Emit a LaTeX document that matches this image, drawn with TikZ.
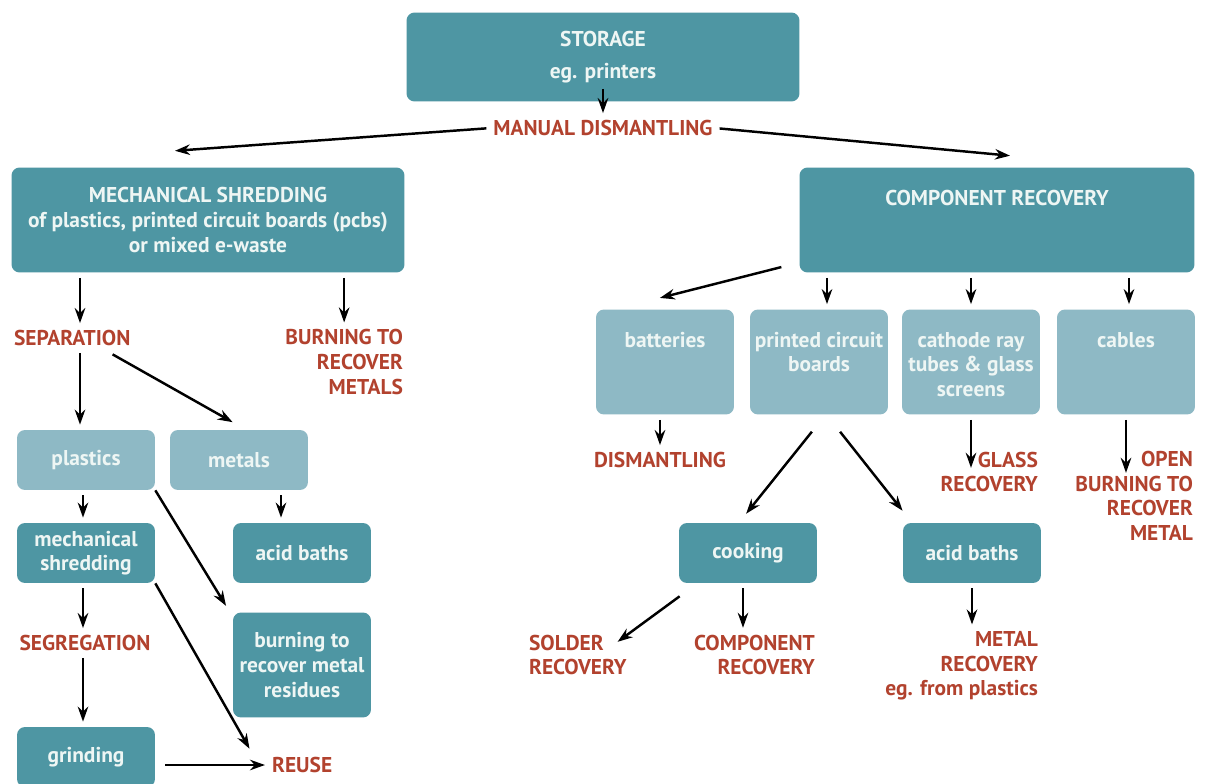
\documentclass[tikz,border=0pt]{standalone}
\usepackage{fontspec}
\setmainfont{PT Sans}
\usetikzlibrary{arrows.meta, positioning, calc}

\definecolor{tealdark}{RGB}{78,150,163}
\definecolor{teallight}{RGB}{142,185,197}
\definecolor{rustred}{RGB}{178,66,46}
\definecolor{boxtext}{RGB}{238,246,244}

% text sitting at the top of a tall box
\newcommand{\toplines}[2]{\parbox[c][1.2cm][t]{#1}{\centering #2}}

\begin{document}
\begin{tikzpicture}[
    x=0.02cm, y=-0.02cm,
    every node/.style={font=\fontsize{12.2}{14}\selectfont\bfseries},
    box/.style={rounded corners=0.16cm, text=boxtext, align=center, inner sep=0.1cm},
    darkbox/.style={box, fill=tealdark},
    lightbox/.style={box, fill=teallight},
    smallbox/.style={minimum width=2.76cm, minimum height=1.2cm},
    tallbox/.style={minimum width=2.76cm, minimum height=2.1cm},
    topbox/.style={lightbox, tallbox, inner xsep=0.02cm},
    redlbl/.style={text=rustred, inner sep=1pt},
    arr/.style={-{Stealth[length=0.3cm, width=0.21cm]}, line width=1.4pt, shorten <=0.1cm, shorten >=0.1cm}
  ]
  \useasboundingbox[fill=white] (0,0) rectangle (1205,784);

  % top level
  \node[darkbox, minimum width=7.86cm, minimum height=1.78cm] (storage) at (603,57) {STORAGE\\[4pt]eg. printers};
  \node[redlbl] (manual) at (603,128) {MANUAL DISMANTLING};
  \node[darkbox, minimum width=7.86cm, minimum height=2.1cm] (mechshred) at (208,220)
    {MECHANICAL SHREDDING\\of plastics, printed circuit boards (pcbs)\\or mixed e-waste};
  \node[darkbox, minimum width=7.9cm, minimum height=2.1cm] (comprec) at (997,220)
    {\toplines{7.6cm}{COMPONENT RECOVERY}};

  % left branch
  \node[redlbl, anchor=west] (sep) at (12,338) {SEPARATION};
  \node[redlbl, anchor=east, align=right] (burn) at (405,362) {BURNING TO\\RECOVER\\METALS};
  \node[lightbox, smallbox] (plastics) at (86,460) {plastics};
  \node[lightbox, smallbox] (metals) at (239,460) {metals};
  \node[darkbox, smallbox] (mech) at (86,553) {mechanical\\shredding};
  \node[darkbox, smallbox] (acidL) at (302,553) {acid baths};
  \node[redlbl] (seg) at (85,643) {SEGREGATION};
  \node[darkbox, tallbox] (burnres) at (302,665) {burning to\\recover metal\\residues};
  \node[darkbox, smallbox] (grind) at (86,757) {grinding};
  \node[redlbl, anchor=west] (reuse) at (270,765) {REUSE};

  % right branch
  \node[topbox] (batt) at (665,362) {\toplines{2.72cm}{batteries}};
  \node[topbox] (pcb) at (819,362) {\toplines{2.72cm}{printed circuit\\boards}};
  \node[topbox] (crt) at (971,362) {\toplines{2.72cm}{cathode ray\\tubes \& glass\\screens}};
  \node[topbox] (cables) at (1126,362) {\toplines{2.72cm}{cables}};
  \node[redlbl] (dism) at (660,460) {DISMANTLING};
  \node[redlbl, anchor=east, align=right] (glass) at (1040,472) {GLASS\\RECOVERY};
  \node[redlbl, anchor=east, align=right] (openburn) at (1195,496) {OPEN\\BURNING TO\\RECOVER\\METAL};
  \node[darkbox, smallbox] (cook) at (748,553) {cooking};
  \node[darkbox, smallbox] (acidR) at (972,553) {acid baths};
  \node[redlbl, anchor=west, align=left] (solder) at (527,655) {SOLDER\\RECOVERY};
  \node[redlbl, anchor=east, align=right] (comp) at (817,655) {COMPONENT\\RECOVERY};
  \node[redlbl, anchor=east, align=right] (metal) at (1040,666) {METAL\\RECOVERY\\eg. from plastics};

  % connectors
  \draw[arr, shorten <=0pt] ([yshift=0.26cm]storage.south) -- (manual.north);
  \draw[arr] (manual.west) -- ($(mechshred.north)+(-38,-16)$);
  \draw[arr] (manual.east) -- ($(comprec.north)+(18,-11)$);
  \draw[arr] ($(mechshred.south -| plastics.north)+(-6,0)$) -- ($(sep.north -| plastics.north)+(-6,0)$);
  \draw[arr] (mechshred.south -| burn.north) -- (burn.north);
  \draw[arr] ($(sep.south -| plastics.north)+(-6,0)$) -- ($(plastics.north)+(-6,0)$);
  \draw[arr] ($(sep.south)+(36,4)$) -- ($(metals.north)+(-2,-5)$);
  \draw[arr] ($(plastics.south)+(-3,0)$) -- ($(mech.north)+(-3,0)$);
  \draw[arr] ($(metals.south)+(42,0)$) -- ($(acidL.north)+(-21,0)$);
  \draw[arr, shorten <=0pt] (plastics.south east) -- ($(burnres.north west)+(-4,-2)$);
  \draw[arr] ($(mech.south)+(-3,0)$) -- ($(mech.south |- seg.north)+(-3,0)$);
  \draw[arr, shorten <=0pt] (mech.south east) -- ($(reuse.north west)+(-18,-2)$);
  \draw[arr] ($(grind.north |- seg.south)+(-3,0)$) -- ($(grind.north)+(-3,0)$);
  \draw[arr, shorten <=0.2cm] (reuse.west -| grind.east) -- (reuse.west);
  \draw[arr] ($(comprec.south west)+(-13,-7)$) -- ($(batt.north)+(-10,-10)$);
  \draw[arr] ($(pcb.north |- comprec.south)+(8,0)$) -- ($(pcb.north)+(8,0)$);
  \draw[arr] (crt.north |- comprec.south) -- (crt.north);
  \draw[arr] ($(cables.north |- comprec.south)+(3,0)$) -- ($(cables.north)+(3,0)$);
  \draw[arr] (batt.south -| dism.north) -- (dism.north);
  \draw[arr] ($(pcb.south)+(-4,13)$) -- ($(cook.north)+(-5,-5)$);
  \draw[arr] ($(pcb.south)+(18,13)$) -- ($(acidR.north west)+(3,-8)$);
  \draw[arr] (crt.south) -- ($(crt.south)+(0,58)$);
  \draw[arr] (cables.south) -- ($(cables.south)+(0,63)$);
  \draw[arr] ($(cook.south west)+(5,10)$) -- ($(solder.north east)+(-15,12)$);
  \draw[arr] ($(cook.south)+(-5,0)$) -- ($(cook.south |- comp.north)+(-5,0)$);
  \draw[arr] (acidR.south) -- (acidR.south |- metal.north);
\end{tikzpicture}
\end{document}
